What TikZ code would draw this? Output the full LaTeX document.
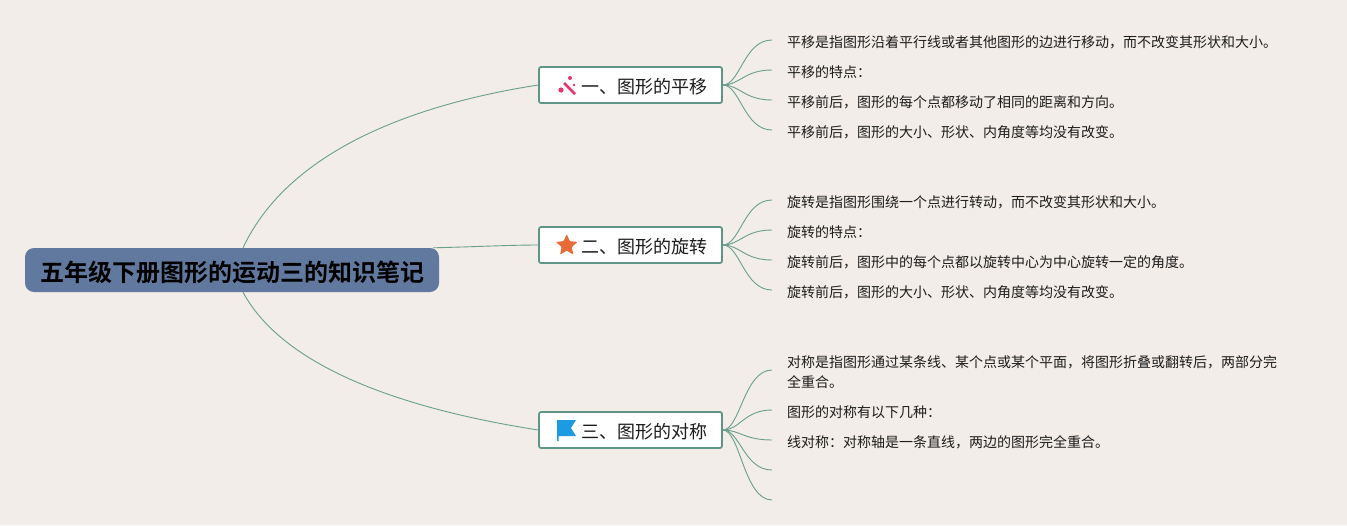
\documentclass[tikz,border=0pt]{standalone}
\usepackage{fontspec}
\usetikzlibrary{calc}
\setmainfont{Noto Sans CJK SC}
\newfontfamily\rootfont{Noto Sans CJK SC Bold}
\definecolor{bgc}{HTML}{F2EDE8}
\definecolor{rootc}{HTML}{61799F}
\definecolor{edgec}{HTML}{5F9486}
\definecolor{linec}{HTML}{6A9F8E}
\definecolor{txtc}{HTML}{1C1C1C}
\definecolor{wandc}{HTML}{E8336F}
\definecolor{starc}{HTML}{E76B38}
\definecolor{flagc}{HTML}{1C9BE3}
\newcommand\lowr[1]{\raisebox{-3.3pt}[11pt][3pt]{#1}}
\tikzset{
 x=1pt,y=-1pt,
 rootbox/.style={rectangle,rounded corners=9pt,fill=rootc,minimum width=414pt,minimum height=44pt,inner sep=0pt,text=black},
 roottext/.style={anchor=center,inner sep=0pt,text=black,font=\fontsize{24}{28}\rootfont},
 topicbox/.style={rectangle,rounded corners=2pt,draw=edgec,line width=1.7pt,fill=white,minimum width=183pt,minimum height=36pt,inner sep=0pt,text=txtc},
 topictext/.style={anchor=center,inner sep=0pt,text=txtc,font=\fontsize{18}{22}\selectfont},
 leaf/.style={anchor=west,inner xsep=15pt,inner ysep=0pt,align=left,text=txtc,font=\fontsize{14}{20}\selectfont},
 conn/.style={draw=linec,line width=0.9pt},
 leafconn/.style={conn},
}
\begin{document}
\begin{tikzpicture}
\useasboundingbox (0,0) rectangle (1347,525);
\fill[bgc] (0,0) rectangle (1347,525);
% root and topics
\node[rootbox] (root) at (232,270) {};
\node[roottext] (rootx) at (232.5,272) {五年级下册图形的运动三的知识笔记};
\node[topicbox] (t1) at (630.5,85) {};
\node[topicbox] (t2) at (630.5,245) {};
\node[topicbox] (t3) at (630.5,430) {};
\node[topictext] (t1x) at (644,86.5) {一、图形的平移};
\node[topictext] (t2x) at (644,246.5) {二、图形的旋转};
\node[topictext] (t3x) at (644,431.5) {三、图形的对称};
% leaves
\node[leaf] (a1) at (772,40) {\lowr{平移是指图形沿着平行线或者其他图形的边进行移动，而不改变其形状和大小。}};
\node[leaf] (a2) at (772,70) {\lowr{平移的特点：}};
\node[leaf] (a3) at (772,100) {\lowr{平移前后，图形的每个点都移动了相同的距离和方向。}};
\node[leaf] (a4) at (772,130) {\lowr{平移前后，图形的大小、形状、内角度等均没有改变。}};
\node[leaf] (b1) at (772,200) {\lowr{旋转是指图形围绕一个点进行转动，而不改变其形状和大小。}};
\node[leaf] (b2) at (772,230) {\lowr{旋转的特点：}};
\node[leaf] (b3) at (772,260) {\lowr{旋转前后，图形中的每个点都以旋转中心为中心旋转一定的角度。}};
\node[leaf] (b4) at (772,290) {\lowr{旋转前后，图形的大小、形状、内角度等均没有改变。}};
\node[leaf] (c1) at (772,370) {\lowr{对称是指图形通过某条线、某个点或某个平面，将图形折叠或翻转后，两部分完}\\\lowr{全重合。}};
\node[leaf] (c2) at (772,410) {\lowr{图形的对称有以下几种：}};
\node[leaf] (c3) at (772,440) {\lowr{线对称：对称轴是一条直线，两边的图形完全重合。}};
\coordinate (c4) at (772,470);
\coordinate (c5) at (772,500);
% connectors root to topics
\draw[conn] ([xshift=11pt]root.north) .. controls (288,152) and (410,105) .. (t1.west);
\draw[conn] ([xshift=201pt]root.north) .. controls (470,247) and (510,245) .. (t2.west);
\draw[conn] ([xshift=11pt]root.south) .. controls (285,370) and (410,410) .. (t3.west);
% connectors topics to leaves
\foreach \n in {a1,a2,a3,a4}{\draw[leafconn] (t1.east) .. controls ($(t1.east)!0.35!(\n.west |- t1.east)$) and ($(\n.west)+(-28,0)$) .. (\n.west);}
\foreach \n in {b1,b2,b3,b4}{\draw[leafconn] (t2.east) .. controls ($(t2.east)!0.35!(\n.west |- t2.east)$) and ($(\n.west)+(-28,0)$) .. (\n.west);}
\foreach \n in {c1,c2,c3,c4,c5}{\draw[leafconn] (t3.east) .. controls ($(t3.east)!0.35!(\n.west |- t3.east)$) and ($(\n.west)+(-28,0)$) .. (\n.west);}
% wand icon
\draw[wandc,line width=2.6pt] (564,83) -- (575,94);
\fill[wandc] (561,90) circle (2.6pt);
\fill[wandc] (570,78) circle (2pt);
\fill[wandc] (574,85) circle (1.3pt);
% star icon
\fill[starc,rounded corners=1pt] (566.7,234) -- (569.8,241.2) -- (577.6,241.9) -- (571.7,247) -- (573.4,254.7) -- (566.7,250.6) -- (560,254.7) -- (561.7,247) -- (555.8,241.9) -- (563.6,241.2) -- cycle;
% flag icon
\fill[flagc] (557,420) -- (576,420) -- (571,428) -- (576,436) -- (558.5,436) -- (558.5,441) -- (557,441) -- cycle;
\end{tikzpicture}
\end{document}
